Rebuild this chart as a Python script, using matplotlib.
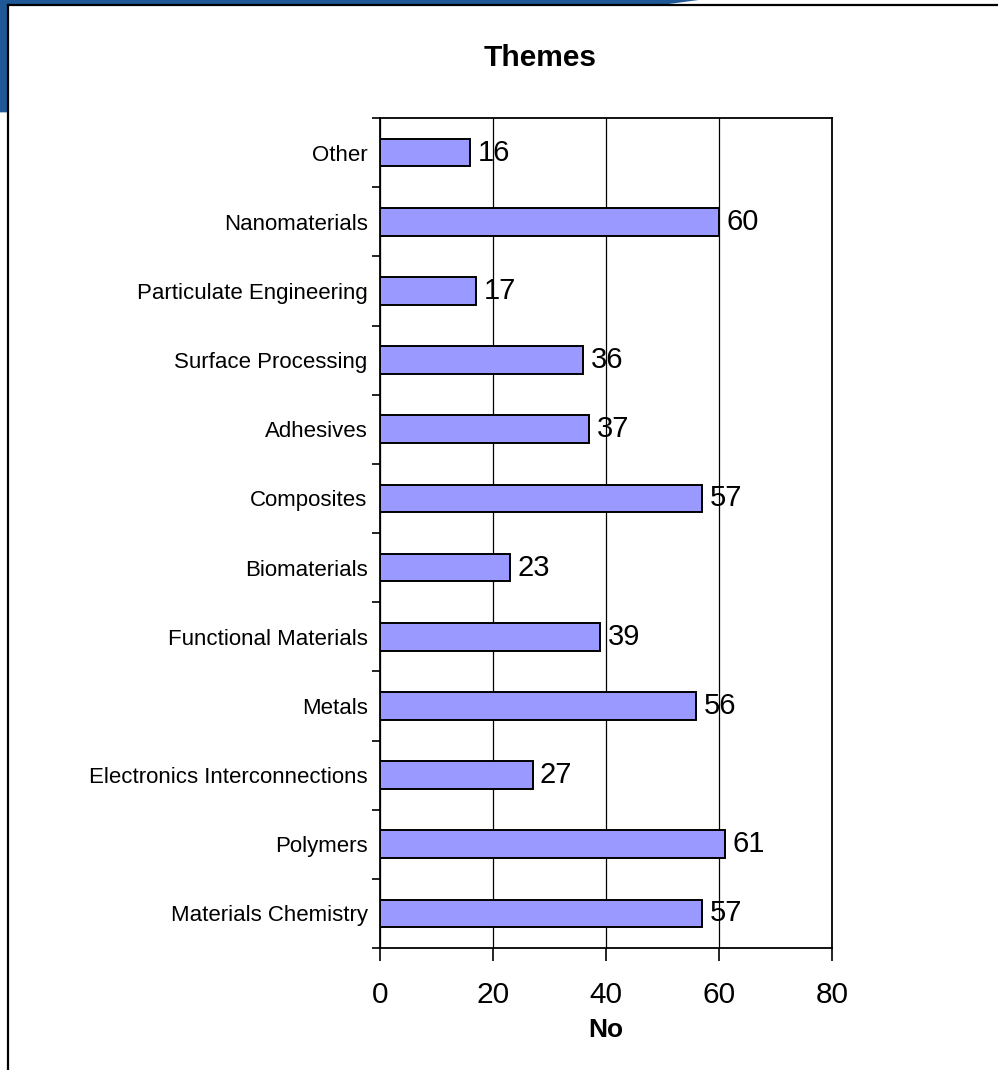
import matplotlib.pyplot as plt
import numpy as np
from matplotlib.patches import Polygon

plt.rcParams["font.family"] = ["Liberation Sans", "DejaVu Sans"]

categories = [
    "Materials Chemistry",
    "Polymers",
    "Electronics Interconnections",
    "Metals",
    "Functional Materials",
    "Biomaterials",
    "Composites",
    "Adhesives",
    "Surface Processing",
    "Particulate Engineering",
    "Nanomaterials",
    "Other",
]
counts = [57, 61, 27, 56, 39, 23, 57, 37, 36, 17, 60, 16]
x_ticks = [0, 20, 40, 60, 80]

fig = plt.figure(figsize=(9.98, 10.70), dpi=100)

# slide-style decoration: blue band on top and left, black frame
blue = "#1f5896"
fig.patches.append(Polygon([(0, 1), (0.70, 1), (0.66, 0.995), (0.008, 0.995), (0.008, 0.895), (0, 0.895)],
                           closed=True, transform=fig.transFigure, facecolor=blue, edgecolor="none"))
fig.add_artist(plt.Line2D([0.008, 1.0], [0.9952, 0.9952], transform=fig.transFigure, color="black", lw=1.6))
fig.add_artist(plt.Line2D([0.008, 0.008], [0.0, 0.9952], transform=fig.transFigure, color="black", lw=1.6))

ax = fig.add_axes([0.3808, 0.1140, 0.4529, 0.7757])

y = np.arange(len(categories))
ax.barh(y, counts, height=0.4, color="#9999FF", edgecolor="black", linewidth=1.4, zorder=3)

for yi, v in zip(y, counts):
    ax.text(v + 1.3, yi, str(v), va="center", ha="left", fontsize=21, zorder=4)

ax.set_xlim(0, 80)
ax.set_ylim(-0.5, len(categories) - 0.5)
ax.set_xticks(x_ticks)
ax.set_xticklabels([str(t) for t in x_ticks], fontsize=21.5)
ax.set_yticks(y)
ax.set_yticklabels(categories, fontsize=16)
ax.set_yticks(np.arange(-0.5, len(categories)), minor=True)
ax.tick_params(axis="y", which="major", length=0, pad=9)
ax.tick_params(axis="y", which="minor", length=6, width=1.2, direction="out")
ax.tick_params(axis="x", which="major", length=9, width=1.2, direction="out", pad=15)

ax.grid(axis="x", color="black", linewidth=0.9, zorder=0)
for s in ax.spines.values():
    s.set_linewidth(1.3)

ax.set_xlabel("No", fontsize=19, fontweight="bold", labelpad=6)
fig.text(0.541, 0.946, "Themes", ha="center", va="center", fontsize=21.5, fontweight="bold")

fig.savefig("out.png", dpi=100)
